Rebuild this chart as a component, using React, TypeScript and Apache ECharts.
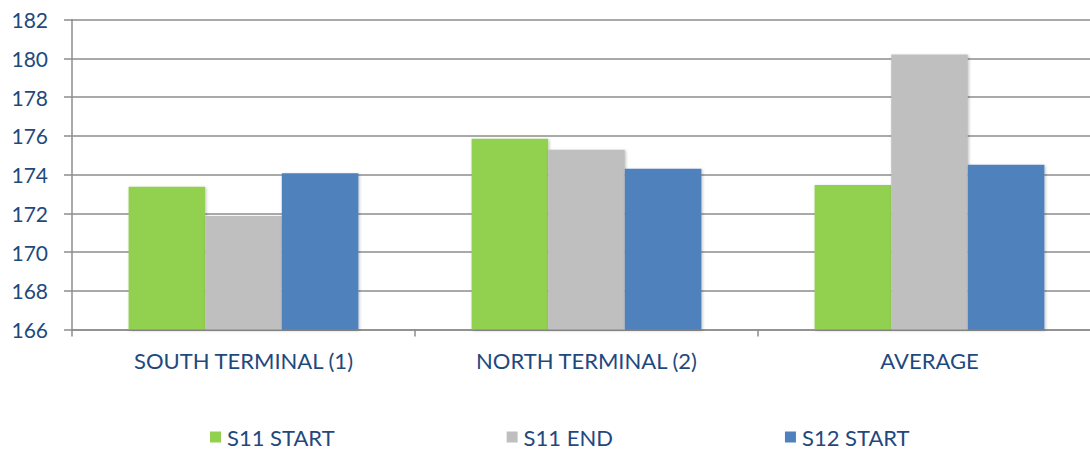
import React, { useEffect, useRef } from "react";
import * as echarts from "echarts";

const categories = ["SOUTH TERMINAL (1)", "NORTH TERMINAL (2)", "AVERAGE"];
const seriesNames = ["S11 START", "S11 END", "S12 START"];
const s11Start = [173.37, 175.85, 173.46];
const s11End = [171.86, 175.28, 180.2];
const s12Start = [174.06, 174.3, 174.5];
const colors = ["#92D050", "#BFBFBF", "#4F81BD"];

const textColor = "#1F497D";
const font = "Lato, 'Open Sans', sans-serif";

export default function App() {
  const ref = useRef<HTMLDivElement>(null);
  useEffect(() => {
    if (!ref.current) return;
    const chart = echarts.init(ref.current, undefined, { renderer: "svg" });
    const values = [s11Start, s11End, s12Start];
    chart.setOption({
      animation: false,
      grid: { left: 72, right: 0, top: 19.5, bottom: 120.5, containLabel: false },
      legend: {
        top: 421,
        left: 205,
        itemWidth: 11,
        itemHeight: 11,
        itemGap: 172,
        icon: "rect",
        textStyle: { color: textColor, fontSize: 22, fontFamily: font, padding: [0, 0, 0, 1] },
        data: seriesNames,
      },
      xAxis: {
        type: "category",
        data: categories,
        axisLine: { show: true, lineStyle: { color: "#8C8C8C", width: 1.5 } },
        axisTick: { show: true, length: 7, lineStyle: { color: "#8C8C8C", width: 1.5 } },
        axisLabel: { color: textColor, fontSize: 22, fontFamily: font, margin: 20 },
      },
      yAxis: {
        type: "value",
        min: 166,
        max: 182,
        interval: 2,
        axisLine: { show: true, lineStyle: { color: "#8C8C8C", width: 1.5 } },
        axisTick: { show: true, length: 8, lineStyle: { color: "#8C8C8C", width: 1.5 } },
        splitLine: { show: true, lineStyle: { color: "#8C8C8C", width: 1.5 } },
        axisLabel: { color: textColor, fontSize: 21, fontFamily: font, margin: 24 },
      },
      series: seriesNames.map((name, i) => ({
        name,
        type: "bar",
        data: values[i],
        barGap: "0%",
        barCategoryGap: "33%",
        itemStyle: {
          color: colors[i],
          shadowColor: "rgba(0,0,0,0.25)",
          shadowBlur: 3,
          shadowOffsetX: 1,
          shadowOffsetY: 1,
        },
      })),
    });
    return () => chart.dispose();
  }, []);
  return (
    <div
      style={{ position: "fixed", left: 0, top: 0, width: 1090, height: 450, overflow: "hidden", background: "#fff" }}
    >
      <div ref={ref} style={{ width: 1101, height: 450 }} />
    </div>
  );
}
